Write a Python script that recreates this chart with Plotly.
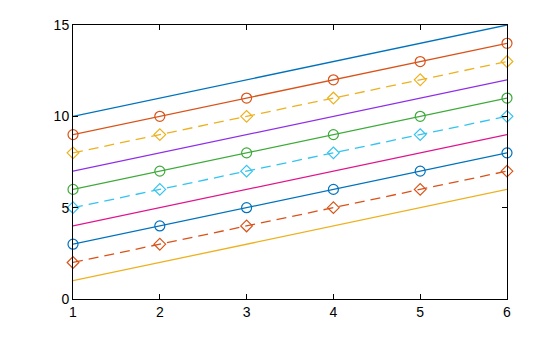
import plotly.graph_objects as go

x = [1, 2, 3, 4, 5, 6]
offsets = [9, 8, 7, 6, 5, 4, 3, 2, 1, 0]
colors = ["#0072BD", "#D95319", "#EDB120", "#8E2EE8", "#3DAA3A", "#33C3F0", "#E0148C",
          "#0072BD", "#D95319", "#EDB120"]
markers = [None, "circle-open", "diamond-open", None, "circle-open", "diamond-open", None,
           "circle-open", "diamond-open", None]
dashes = ["solid", "solid", "10px,6px", "solid", "solid", "10px,6px", "solid", "solid",
          "10px,6px", "solid"]

fig = go.Figure()
for c, col, m, d in zip(offsets, colors, markers, dashes):
    y = [xi + c for xi in x]
    if m is None:
        fig.add_trace(go.Scatter(x=x, y=y, mode="lines", cliponaxis=False,
                                 line=dict(color=col, width=1.3, dash=d)))
    else:
        size = 10 if m.startswith("circle") else 9
        fig.add_trace(go.Scatter(x=x, y=y, mode="lines+markers", cliponaxis=False,
                                 line=dict(color=col, width=1.3, dash=d),
                                 marker=dict(symbol=m, size=size,
                                             line=dict(color=col, width=1.2))))

axis_common = dict(showgrid=False, zeroline=False, showline=True, linecolor="black",
                   linewidth=1, mirror="ticks", ticks="inside", ticklen=5,
                   tickcolor="black", tickfont=dict(family="Liberation Sans, Arial", size=14,
                                                    color="black"))
fig.update_xaxes(range=[1, 6], tickvals=[1, 2, 3, 4, 5, 6], **axis_common)
fig.update_yaxes(range=[0, 15], tickvals=[0, 5, 10, 15], **axis_common)
fig.update_layout(width=560, height=337, showlegend=False,
                  margin=dict(l=73, r=53, t=25, b=38),
                  plot_bgcolor="white", paper_bgcolor="white")
fig.write_html("out.html")
